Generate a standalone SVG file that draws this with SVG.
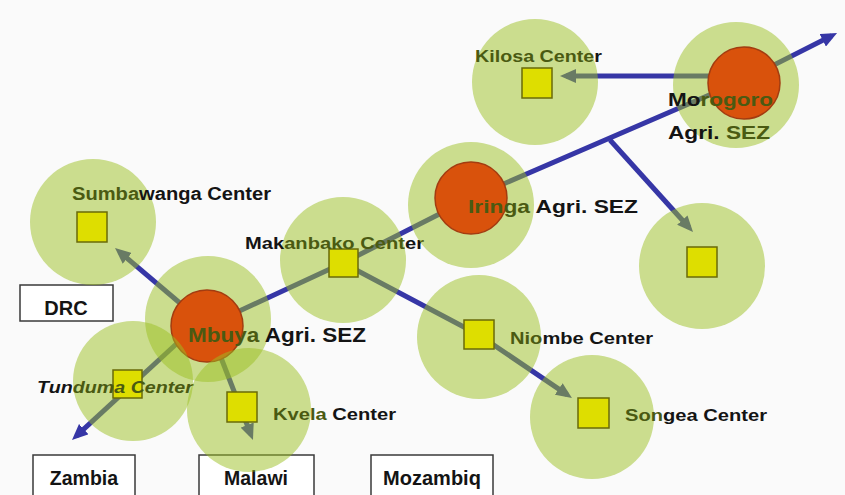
<svg xmlns="http://www.w3.org/2000/svg" width="845" height="495" viewBox="0 0 845 495">
<defs>
<marker id="ah" markerUnits="userSpaceOnUse" markerWidth="16" markerHeight="14" viewBox="0 0 16 14" refX="10" refY="7" orient="auto"><path d="M0,0 L16,7 L0,14 z" fill="#3636a6"/></marker>
<style>
.ln{fill:none;stroke:#3636a6;stroke-width:5;stroke-linejoin:round}
.zone{fill:#9cbf22;fill-opacity:0.5}
.sez{fill:#d9520c;stroke:#a33c10;stroke-width:1.5}
.ctr{fill:#dede00;stroke:#6a6a08;stroke-width:1.5}
.t{font-family:"Liberation Sans",Arial,sans-serif;font-weight:bold;fill:#141414}
.o{fill:#4a5a12}
.box{fill:#ffffff;stroke:#3a3a3a;stroke-width:1.5}
</style>
</defs>
<rect width="845" height="495" fill="#fafafa"/>
<g id="connectors">
<polyline class="ln" points="207,326 343,263 471,198 744,80 831.7,35.8" marker-end="url(#ah)"/>
<line class="ln" x1="610" y1="140" x2="689" y2="227.5" marker-end="url(#ah)"/>
<line class="ln" x1="744" y1="76" x2="566" y2="76" marker-end="url(#ah)"/>
<line class="ln" x1="207" y1="326" x2="119.6" y2="251.9" marker-end="url(#ah)"/>
<line class="ln" x1="185" y1="336" x2="76.4" y2="435.9" marker-end="url(#ah)"/>
<line class="ln" x1="218" y1="350" x2="250.8" y2="434.4" marker-end="url(#ah)"/>
<polyline class="ln" points="343,263 479,335 567,394.6" marker-end="url(#ah)"/>
</g>
<g id="countries">
<g id="drc"><rect class="box" x="20" y="285" width="93" height="36"/><text class="t" x="66" y="315" font-size="20" text-anchor="middle">DRC</text></g>
<g id="zambia"><rect class="box" x="33" y="455" width="102" height="46"/><text class="t" x="84" y="485" font-size="19.5" text-anchor="middle">Zambia</text></g>
<g id="malawi"><rect class="box" x="199" y="455" width="115" height="46"/><text class="t" x="256" y="485" font-size="19.5" text-anchor="middle">Malawi</text></g>
<g id="mozambiq"><rect class="box" x="371" y="455" width="122" height="46"/><text class="t" x="432" y="485" font-size="20" text-anchor="middle">Mozambiq</text></g>
</g>
<g id="kilosa">
<circle class="zone" cx="535" cy="82" r="63"/>
<rect class="ctr" x="522" y="68" width="30" height="30"/>
<text class="t" x="475" y="62" font-size="17" textLength="127" lengthAdjust="spacingAndGlyphs"><tspan class="o">Kilosa Cente</tspan>r</text>
</g>
<g id="morogoro">
<circle class="zone" cx="736" cy="85" r="63"/>
<circle class="sez" cx="744" cy="83" r="36"/>
<text class="t" x="668" y="106" font-size="19" textLength="105" lengthAdjust="spacingAndGlyphs">Mo<tspan class="o">rogoro</tspan></text>
<text class="t" x="668" y="139" font-size="19" textLength="102" lengthAdjust="spacingAndGlyphs">Agri.<tspan class="o"> SEZ</tspan></text>
</g>
<g id="sumbawanga">
<circle class="zone" cx="93" cy="222" r="63"/>
<rect class="ctr" x="77" y="212" width="30" height="30"/>
<text class="t" x="72" y="200" font-size="18" textLength="199" lengthAdjust="spacingAndGlyphs"><tspan class="o">Sumba</tspan>wanga Center</text>
</g>
<g id="makanbako">
<circle class="zone" cx="343" cy="260" r="63"/>
<rect class="ctr" x="329" y="249" width="29" height="28"/>
<text class="t" x="245" y="249" font-size="17" textLength="179" lengthAdjust="spacingAndGlyphs">Mak<tspan class="o">anbako Cent</tspan>er</text>
</g>
<g id="iringa">
<circle class="zone" cx="471" cy="205" r="63"/>
<circle class="sez" cx="471" cy="198" r="36"/>
<text class="t" x="468" y="213" font-size="19" textLength="170" lengthAdjust="spacingAndGlyphs"><tspan class="o">Iringa</tspan> Agri. SEZ</text>
</g>
<g id="eastcenter">
<circle class="zone" cx="702" cy="266" r="63"/>
<rect class="ctr" x="687" y="247" width="30" height="30"/>
</g>
<g id="niombe">
<circle class="zone" cx="479" cy="337" r="62"/>
<rect class="ctr" x="464" y="320" width="30" height="29"/>
<text class="t" x="510" y="344" font-size="17" textLength="143" lengthAdjust="spacingAndGlyphs"><tspan class="o">Nio</tspan>mbe Center</text>
</g>
<g id="songea">
<circle class="zone" cx="592" cy="417" r="62"/>
<rect class="ctr" x="578" y="398" width="31" height="30"/>
<text class="t" x="625" y="421" font-size="17" textLength="142" lengthAdjust="spacingAndGlyphs"><tspan class="o">Son</tspan>gea Center</text>
</g>
<g id="mbuya">
<circle class="zone" cx="208" cy="319" r="63"/>
<circle class="sez" cx="207" cy="326" r="36"/>
<text class="t" x="188" y="342" font-size="20" textLength="178" lengthAdjust="spacingAndGlyphs"><tspan class="o">Mbuya</tspan> Agri. SEZ</text>
</g>
<g id="tunduma">
<circle class="zone" cx="133" cy="381" r="60"/>
<rect class="ctr" x="113" y="370" width="29" height="28"/>
<text class="t" x="37" y="393" font-size="17" font-style="italic" textLength="156" lengthAdjust="spacingAndGlyphs">Tun<tspan class="o">duma Center</tspan></text>
</g>
<g id="kvela">
<circle class="zone" cx="249" cy="410" r="62"/>
<rect class="ctr" x="227" y="392" width="30" height="30"/>
<text class="t" x="273" y="420" font-size="17" textLength="123" lengthAdjust="spacingAndGlyphs"><tspan class="o">Kvela</tspan> Center</text>
</g>
</svg>
